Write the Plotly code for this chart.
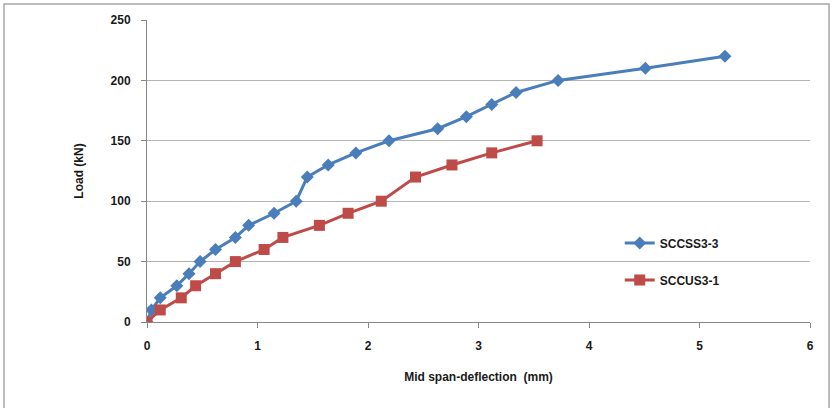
import plotly.graph_objects as go

# SCCSS3-3 (blue, diamonds)
sccss_defl = [0, 0.04, 0.12, 0.27, 0.38, 0.48, 0.62, 0.80, 0.92, 1.15, 1.35, 1.45,
              1.64, 1.89, 2.19, 2.63, 2.89, 3.12, 3.34, 3.72, 4.51, 5.23]
sccss_load = [0, 10, 20, 30, 40, 50, 60, 70, 80, 90, 100, 120,
              130, 140, 150, 160, 170, 180, 190, 200, 210, 220]

# SCCUS3-1 (red, squares)
sccus_defl = [0, 0.12, 0.31, 0.44, 0.62, 0.80, 1.06, 1.23, 1.56, 1.82, 2.12,
              2.43, 2.76, 3.12, 3.53]
sccus_load = [0, 10, 20, 30, 40, 50, 60, 70, 80, 90, 100,
              120, 130, 140, 150]

FONT = "Liberation Sans"
TXT = "#1a1a1a"

fig = go.Figure()
fig.add_trace(go.Scatter(
    x=sccss_defl, y=sccss_load, name="SCCSS3-3", mode="lines+markers",
    legendgroup="a",
    line=dict(color="#4a7ebb", width=3),
    marker=dict(symbol="diamond", size=10, color="#4a7ebb")))
fig.add_trace(go.Scatter(
    x=sccus_defl, y=sccus_load, name="SCCUS3-1", mode="lines+markers",
    legendgroup="b",
    line=dict(color="#be4b48", width=3),
    marker=dict(symbol="square", size=11, color="#be4b48")))

fig.update_xaxes(
    range=[0, 6], dtick=1, showgrid=False, zeroline=False,
    showline=True, linecolor="#868686", linewidth=1,
    ticks="outside", ticklen=5, tickcolor="#868686", ticklabelstandoff=8,
    tickfont=dict(family=FONT, size=12, color=TXT, weight="bold"),
    title=dict(text="Mid span-deflection  (mm)", standoff=20,
               font=dict(family=FONT, size=12, color=TXT, weight="bold")))
fig.update_yaxes(
    range=[0, 250], dtick=50, showgrid=True, gridcolor="#b3b3b3", gridwidth=1,
    zeroline=False, showline=True, linecolor="#868686", linewidth=1,
    ticks="outside", ticklen=5, tickcolor="#868686", ticklabelstandoff=8,
    tickfont=dict(family=FONT, size=12, color=TXT, weight="bold"),
    title=dict(text="Load (kN)", standoff=24,
               font=dict(family=FONT, size=12, color=TXT, weight="bold")))

fig.update_layout(
    width=834, height=408,
    margin=dict(l=147, r=24, t=20, b=86),
    paper_bgcolor="white", plot_bgcolor="white",
    legend=dict(x=0.713, y=0.20, xanchor="left", yanchor="middle",
                bgcolor="rgba(0,0,0,0)", tracegroupgap=18,
                font=dict(family=FONT, size=12, color=TXT, weight="bold")),
    shapes=[dict(type="rect", xref="paper", yref="paper",
                 x0=-0.2157, x1=1.0287, y0=-0.4, y1=1.053,
                 line=dict(color="#a6a6a6", width=1.5), layer="below")],
)

fig.write_html("out.html", config={"displayModeBar": False},
               post_script="document.body.style.margin='0';")
